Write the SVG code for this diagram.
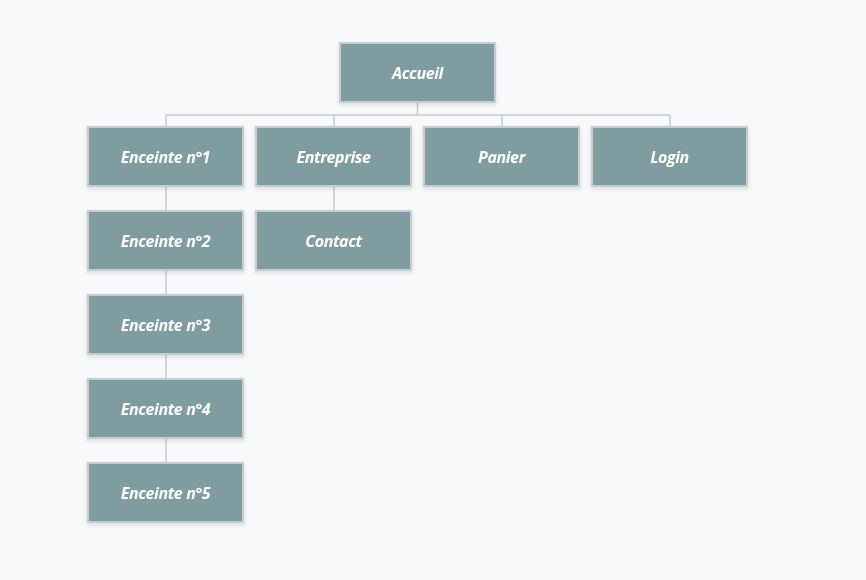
<svg xmlns="http://www.w3.org/2000/svg" width="866" height="580" viewBox="0 0 866 580">
<style>
.box{fill:#7f9da1;stroke:#c9cccd;stroke-width:2}
.lbl{font-family:"Open Sans",sans-serif;font-weight:bold;font-style:italic;font-size:16px;letter-spacing:-0.4px;fill:#ffffff;text-anchor:middle;dominant-baseline:central}
.ln{stroke:#c8cacc;stroke-width:1.5;fill:none}
</style>
<defs>
<filter id="sh" x="-10%" y="-20%" width="120%" height="150%">
<feDropShadow dx="0" dy="2" stdDeviation="2" flood-color="#000" flood-opacity="0.12"/>
</filter>
</defs>
<rect width="866" height="580" fill="#f7f9fb"/>
<g id="connectors">
<path class="ln" d="M417.5 102V115M166 115H670M166 115V127M334 115V127M502 115V127M670 115V127"/>
<path class="ln" d="M166 186V211M166 270V295M166 354V379M166 438V463M334 186V211"/>
</g>
<g id="accueil" filter="url(#sh)"><rect class="box" x="340" y="43" width="155" height="59"/><text class="lbl" x="417.5" y="73">Accueil</text></g>
<g id="enceinte1" filter="url(#sh)"><rect class="box" x="88" y="127" width="155" height="59"/><text class="lbl" x="165.5" y="157">Enceinte n°1</text></g>
<g id="entreprise" filter="url(#sh)"><rect class="box" x="256" y="127" width="155" height="59"/><text class="lbl" x="333.5" y="157">Entreprise</text></g>
<g id="panier" filter="url(#sh)"><rect class="box" x="424" y="127" width="155" height="59"/><text class="lbl" x="501.5" y="157">Panier</text></g>
<g id="login" filter="url(#sh)"><rect class="box" x="592" y="127" width="155" height="59"/><text class="lbl" x="669.5" y="157">Login</text></g>
<g id="contact" filter="url(#sh)"><rect class="box" x="256" y="211" width="155" height="59"/><text class="lbl" x="333.5" y="241">Contact</text></g>
<g id="enceinte2" filter="url(#sh)"><rect class="box" x="88" y="211" width="155" height="59"/><text class="lbl" x="165.5" y="241">Enceinte n°2</text></g>
<g id="enceinte3" filter="url(#sh)"><rect class="box" x="88" y="295" width="155" height="59"/><text class="lbl" x="165.5" y="325">Enceinte n°3</text></g>
<g id="enceinte4" filter="url(#sh)"><rect class="box" x="88" y="379" width="155" height="59"/><text class="lbl" x="165.5" y="409">Enceinte n°4</text></g>
<g id="enceinte5" filter="url(#sh)"><rect class="box" x="88" y="463" width="155" height="59"/><text class="lbl" x="165.5" y="493">Enceinte n°5</text></g>
</svg>
